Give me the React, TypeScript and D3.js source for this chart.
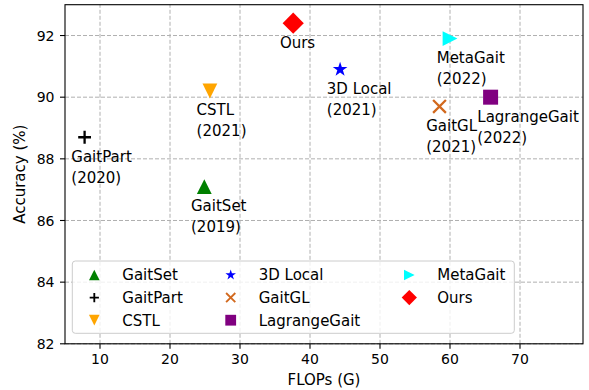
import React from 'react';
import * as d3 from 'd3';

// data
const methods = ['GaitSet', 'GaitPart', 'CSTL', '3D Local', 'GaitGL', 'LagrangeGait', 'MetaGait', 'Ours'];
const years = ['2019', '2020', '2021', '2021', '2021', '2022', '2022', ''];
const flops = [24.9, 7.8, 25.7, 44.3, 58.5, 65.8, 60.0, 37.6];
const accuracy = [87.1, 88.7, 90.2, 90.9, 89.7, 90.0, 91.9, 92.4];
const xTicks = [10, 20, 30, 40, 50, 60, 70];
const yTicks = [82, 84, 86, 88, 90, 92];

// marker style per method
const styles: Record<string, { shape: string; color: string }> = {
  GaitSet: { shape: 'triUp', color: '#008000' },
  GaitPart: { shape: 'plus', color: '#000000' },
  CSTL: { shape: 'triDown', color: '#ffa500' },
  '3D Local': { shape: 'star', color: '#0000ff' },
  GaitGL: { shape: 'x', color: '#d2691e' },
  LagrangeGait: { shape: 'square', color: '#800080' },
  MetaGait: { shape: 'triRight', color: '#00ffff' },
  Ours: { shape: 'diamond', color: '#ff0000' },
};

const W = 589;
const H = 390;
const font = 'DejaVu Sans, sans-serif';

// path for a marker of the given shape, scale k
function markerPath(shape: string, k: number) {
  const p = d3.path();
  const t = 7.4 * k;
  if (shape === 'triUp') {
    p.moveTo(0, -t); p.lineTo(t, t); p.lineTo(-t, t); p.closePath();
  } else if (shape === 'triDown') {
    p.moveTo(0, t); p.lineTo(t, -t); p.lineTo(-t, -t); p.closePath();
  } else if (shape === 'triRight') {
    p.moveTo(t, 0); p.lineTo(-t, -t); p.lineTo(-t, t); p.closePath();
  } else if (shape === 'square') {
    const s = 7.5 * k;
    p.rect(-s, -s, 2 * s, 2 * s);
  } else if (shape === 'diamond') {
    const d = 10.6 * k;
    p.moveTo(0, -d); p.lineTo(d, 0); p.lineTo(0, d); p.lineTo(-d, 0); p.closePath();
  } else if (shape === 'star') {
    const ro = 7.7 * k;
    const ri = ro * 0.381966;
    for (let i = 0; i < 10; i++) {
      const r = i % 2 === 0 ? ro : ri;
      const a = (i * Math.PI) / 5;
      const x = r * Math.sin(a);
      const y = -r * Math.cos(a);
      if (i === 0) p.moveTo(x, y); else p.lineTo(x, y);
    }
    p.closePath();
  } else if (shape === 'plus') {
    const s = 6.4 * k;
    p.moveTo(-s, 0); p.lineTo(s, 0); p.moveTo(0, -s); p.lineTo(0, s);
  } else if (shape === 'x') {
    const s = 6.4 * k;
    p.moveTo(-s, -s); p.lineTo(s, s); p.moveTo(-s, s); p.lineTo(s, -s);
  }
  return p.toString();
}

function Marker({ shape, color, k }: { shape: string; color: string; k: number }) {
  const stroked = shape === 'plus' || shape === 'x';
  return stroked ? (
    <path d={markerPath(shape, k)} fill="none" stroke={color} strokeWidth={2.3 * Math.max(k, 0.8)} />
  ) : (
    <path d={markerPath(shape, k)} fill={color} />
  );
}

export default function App() {
  const x = d3.scaleLinear().domain([5, 79]).range([65, 583]);
  const y = d3.scaleLinear().domain([82, 93]).range([343.8, 4.7]);
  const [x0, x1] = x.range();
  const [y0, y1] = y.range();

  const legendCols = [94.3, 230.7, 409.3];
  const legendRows = [275, 297.6, 320.2];

  return (
    <svg width={W} height={H} style={{ position: 'absolute', left: 0, top: 0, background: '#fff' }}
      fontFamily={font}>
      <rect width={W} height={H} fill="#fff" />

      {/* grid */}
      <g stroke="#b0b0b0" strokeWidth={1} strokeDasharray="4,2">
        {xTicks.map(t => <line key={'gx' + t} x1={x(t)} x2={x(t)} y1={y0} y2={y1} />)}
        {yTicks.map(t => <line key={'gy' + t} x1={x0} x2={x1} y1={y(t)} y2={y(t)} />)}
      </g>

      {/* points and labels */}
      {methods.map((m, i) => {
        const cx = x(flops[i]);
        const cy = y(accuracy[i]);
        return (
          <g key={m}>
            <g transform={`translate(${cx},${cy})`}>
              <Marker shape={styles[m].shape} color={styles[m].color} k={1} />
            </g>
            <text x={cx - 13.3} y={cy + 24.4} fontSize={15} fill="#000">{m}</text>
            {years[i] && (
              <text x={cx - 13.3} y={cy + 45.4} fontSize={15} fill="#000">({years[i]})</text>
            )}
          </g>
        );
      })}

      {/* legend */}
      <rect x={72.3} y={261} width={442} height={72.3} rx={3} fill="#fff" fillOpacity={0.8}
        stroke="#cccccc" strokeWidth={1} />
      {methods.map((m, i) => {
        const lx = legendCols[Math.floor(i / 3)];
        const ly = legendRows[i % 3];
        return (
          <g key={'lg' + m}>
            <g transform={`translate(${lx},${ly})`}>
              <Marker shape={styles[m].shape} color={styles[m].color} k={0.72} />
            </g>
            <text x={lx + 28} y={ly + 5.4} fontSize={15} fill="#000">{m}</text>
          </g>
        );
      })}

      {/* frame */}
      <rect x={x0} y={y1} width={x1 - x0} height={y0 - y1} fill="none" stroke="#000" strokeWidth={1.1} />

      {/* x axis */}
      {xTicks.map(t => (
        <g key={'tx' + t}>
          <line x1={x(t)} x2={x(t)} y1={y0} y2={y0 + 5} stroke="#000" strokeWidth={1.1} />
          <text x={x(t)} y={y0 + 20.5} fontSize={14} textAnchor="middle" fill="#000">{t}</text>
        </g>
      ))}
      <text x={(x0 + x1) / 2} y={385} fontSize={15} textAnchor="middle" fill="#000">FLOPs (G)</text>

      {/* y axis */}
      {yTicks.map(t => (
        <g key={'ty' + t}>
          <line x1={x0 - 5} x2={x0} y1={y(t)} y2={y(t)} stroke="#000" strokeWidth={1.1} />
          <text x={x0 - 10.5} y={y(t) + 5.1} fontSize={14} textAnchor="end" fill="#000">{t}</text>
        </g>
      ))}
      <text transform={`translate(24.5,${(y0 + y1) / 2}) rotate(-90)`} fontSize={15} textAnchor="middle"
        fill="#000">Accuracy (%)</text>
    </svg>
  );
}
